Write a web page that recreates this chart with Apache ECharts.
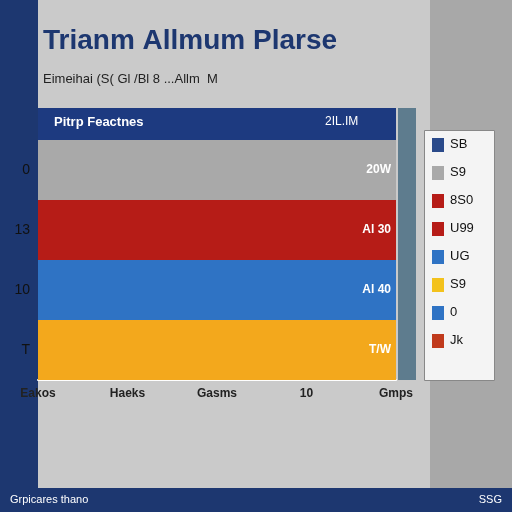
<!DOCTYPE html>
<html lang="en">
<head>
<meta charset="UTF-8">
<title>Chart</title>
<script src="https://cdn.jsdelivr.net/npm/echarts@6/dist/echarts.min.js"></script>
<style>
  body { margin: 0; background: #c9c9c9; }
  #main { width: 512px; height: 512px; }
</style>
</head>
<body>
<div id="main"></div>
<script>
// data
var categories = ['T', '10', '13', '0'];
var values = [100, 100, 100, 100];
var barColors = ['#f3a81c', '#2f73c4', '#b61c17', '#a9a9a9'];
var barLabels = ['T/W', 'Al 40', 'Al 30', '20W'];
var xLabels = ['Eakos', 'Haeks', 'Gasms', '10', 'Gmps'];
var legendNames = ['SB', 'S9', '8S0', 'U99', 'UG', 'S9', '0', 'Jk'];
var legendColors = ['#2a4a8a', '#a9a9a9', '#b61c17', '#b61c17', '#2f73c4', '#f3c21c', '#2f73c4', '#c03a1c'];

var chart = echarts.init(document.getElementById('main'));

var legendGraphics = legendNames.map(function (n, i) {
  return {
    type: 'group', left: 432, top: 138 + i * 28,
    children: [
      { type: 'rect', shape: { width: 12, height: 14 }, style: { fill: legendColors[i] } },
      { type: 'text', left: 18, top: 0, style: { text: n, fontSize: 13, fill: '#111', fontFamily: 'Liberation Sans' } }
    ]
  };
});

chart.setOption({
  backgroundColor: '#cacaca',
  graphic: [
    { type: 'rect', left: 0, top: 0, shape: { width: 38, height: 488 }, style: { fill: '#1d3770' } },
    { type: 'rect', left: 430, top: 0, shape: { width: 82, height: 488 }, style: { fill: '#a8a8a8' } },
    { type: 'rect', left: 0, top: 488, shape: { width: 512, height: 24 }, style: { fill: '#1d3770' } },
    { type: 'text', left: 10, top: 494, style: { text: 'Grpicares thano', fill: '#fff', fontSize: 11, fontFamily: 'Liberation Sans' } },
    { type: 'text', right: 10, top: 494, style: { text: 'SSG', fill: '#fff', fontSize: 11, fontFamily: 'Liberation Sans' } },
    { type: 'rect', left: 424, top: 130, shape: { width: 70, height: 250 }, style: { fill: '#f4f4f4', stroke: '#888' } },
    { type: 'rect', left: 38, top: 108, shape: { width: 358, height: 32 }, style: { fill: '#1d3a80' } },
    { type: 'text', left: 54, top: 116, style: { text: 'Pitrp Feactnes', fill: '#fff', fontSize: 13, fontWeight: 'bold', fontFamily: 'Liberation Sans' } },
    { type: 'text', left: 325, top: 116, style: { text: '2IL.IM', fill: '#fff', fontSize: 12, fontFamily: 'Liberation Sans' } },
    { type: 'rect', left: 398, top: 108, shape: { width: 18, height: 272 }, style: { fill: '#5e7c8e' } }
  ].concat(legendGraphics),
  title: {
    text: 'Trianm Allmum Plarse',
    subtext: 'Eimeihai (S( Gl /Bl 8 ...Allm  M',
    left: 38, top: 22,
    textStyle: { fontSize: 28, fontWeight: 'bold', color: '#1d3770', fontFamily: 'Liberation Sans' },
    subtextStyle: { fontSize: 13, color: '#222', fontFamily: 'Liberation Sans' },
    itemGap: 18
  },
  grid: { left: 38, right: 116, top: 140, bottom: 132 },
  xAxis: {
    type: 'value', min: 0, max: 100, interval: 25,
    splitLine: { show: false },
    axisLine: { show: true, lineStyle: { color: '#fff', width: 2 } },
    axisLabel: {
      color: '#222', fontSize: 12, fontWeight: 'bold',
      formatter: function (v) { return xLabels[v / 25]; }
    }
  },
  yAxis: {
    type: 'category', data: categories,
    axisLine: { show: false }, axisTick: { show: false },
    axisLabel: { color: '#111', fontSize: 14, margin: 8 }
  },
  series: [{
    type: 'bar', barWidth: '100%', barCategoryGap: 0,
    data: values.map(function (v, i) {
      return { value: v, itemStyle: { color: barColors[i] }, label: { formatter: barLabels[i] } };
    }),
    label: { show: true, position: 'insideRight', color: '#fff', fontSize: 12, fontWeight: 'bold' }
  }]
});
</script>
</body>
</html>
